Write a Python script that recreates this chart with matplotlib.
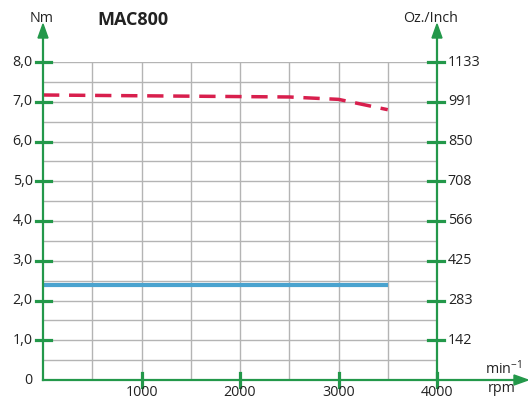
import matplotlib
matplotlib.use("Agg")
import matplotlib.pyplot as plt

rpm = [0, 500, 1000, 1500, 2000, 2500, 3000, 3500]
peak_torque = [7.17, 7.16, 7.15, 7.14, 7.13, 7.12, 7.06, 6.80]
cont_rpm = [0, 3500]
cont_torque = [2.38, 2.38]
left_ticks = [1, 2, 3, 4, 5, 6, 7, 8]
left_labels = ["1,0", "2,0", "3,0", "4,0", "5,0", "6,0", "7,0", "8,0"]
right_labels = ["142", "283", "425", "566", "708", "850", "991", "1133"]
x_ticks = [1000, 2000, 3000, 4000]

W, H = 528, 401
fig = plt.figure(figsize=(W/100, H/100), dpi=100)
L, R, B, T = 43, 437, 380, 62
ax = fig.add_axes([L/W, (H-B)/H, (R-L)/W, (B-T)/H])
ax.set_xlim(0, 4000)
ax.set_ylim(0, 8)
ax.axis("off")

font = "Open Sans"
fs = 10.3
green = "#23984a"
grid = "#b4b4b4"
txt = "#222222"

# grid
for i in range(1, 17):
    y = i * 0.5
    ax.plot([0, 4000], [y, y], color=grid, lw=1, zorder=1)
for xv in range(500, 4000, 500):
    ax.plot([xv, xv], [0, 8], color=grid, lw=1, zorder=1)

ax.plot(cont_rpm, cont_torque, color="#4aa3cf", lw=3, solid_capstyle="butt", zorder=3)
ax.plot(rpm, peak_torque, color="#d81f4d", lw=2.5, dashes=(4.7, 2.8), zorder=3)

# axes lines with arrows (figure pixel coords)
def fx(px): return px / W
def fy(py): return (H - py) / H

for xp in (L, R):
    fig.add_artist(plt.Line2D([fx(xp), fx(xp)], [fy(B), fy(32)], color=green, lw=1.6))
    fig.add_artist(matplotlib.patches.Polygon(
        [[fx(xp-5), fy(38)], [fx(xp+5), fy(38)], [fx(xp), fy(24)]],
        closed=True, color=green, transform=fig.transFigure))
fig.add_artist(plt.Line2D([fx(L), fx(518)], [fy(B), fy(B)], color=green, lw=1.6))
fig.add_artist(matplotlib.patches.Polygon(
    [[fx(514), fy(B-5)], [fx(514), fy(B+5)], [fx(528), fy(B)]],
    closed=True, color=green, transform=fig.transFigure))

# ticks
for t, lab, rl in zip(left_ticks, left_labels, right_labels):
    ax.plot([-70, 80], [t, t], color=green, lw=2.3, clip_on=False, zorder=4)
    ax.plot([3910, 4070], [t, t], color=green, lw=2.3, clip_on=False, zorder=4)
    ax.text(-105, t, lab, ha="right", va="center", fontsize=fs, family=font, color=txt)
    ax.text(4110, t, rl, ha="left", va="center", fontsize=fs, family=font, color=txt)
ax.text(-105, 0, "0", ha="right", va="center", fontsize=fs, family=font, color=txt)
for xv in x_ticks:
    ax.plot([xv, xv], [-0.17, 0.17], color=green, lw=2.3, clip_on=False, zorder=4)
    fig.text(fx(L + xv * (R - L) / 4000), fy(400.5), str(xv), ha="center", va="bottom",
             fontsize=fs, family=font, color=txt)

fig.text(fx(42), fy(18), "Nm", ha="center", va="center", fontsize=fs, family=font, color=txt)
fig.text(fx(133), fy(20), "MAC800", ha="center", va="center", fontsize=13, family=font, weight="bold", color=txt)
fig.text(fx(431), fy(18), "Oz./Inch", ha="center", va="center", fontsize=fs, family=font, color=txt)
fig.text(fx(503), fy(369), r"min$^{\mathregular{-1}}$", ha="center", va="center", fontsize=fs, family=font, color=txt)
fig.text(fx(502), fy(389), "rpm", ha="center", va="center", fontsize=fs, family=font, color=txt)

fig.savefig("out.png", dpi=100)
